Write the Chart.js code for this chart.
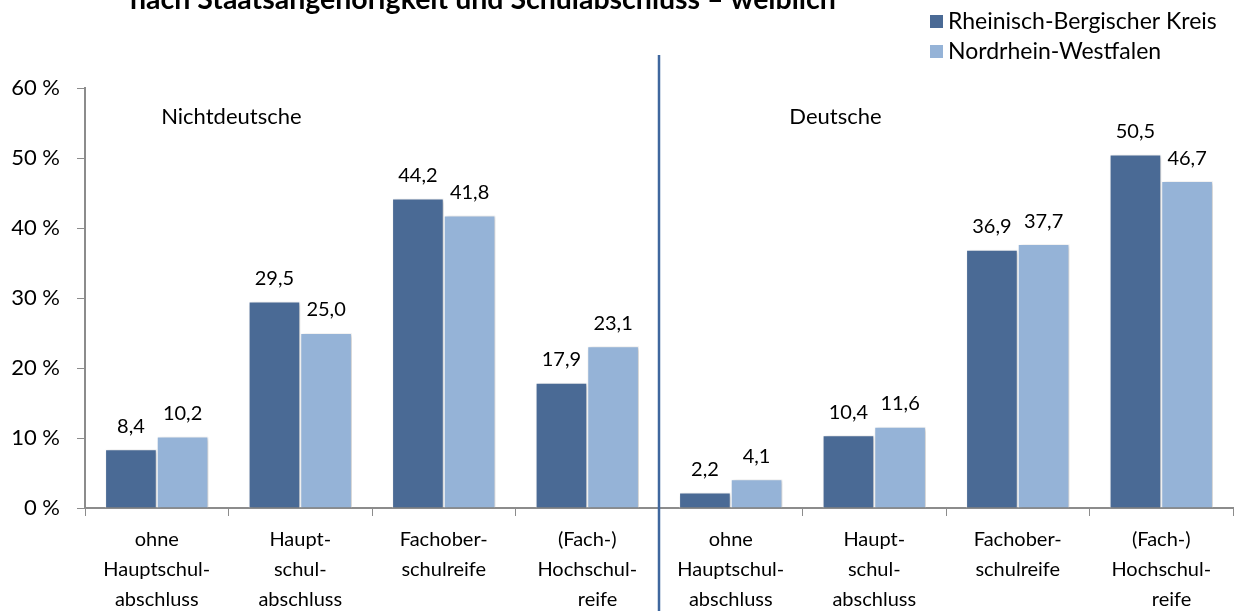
<!DOCTYPE html>
<html>
<head>
<meta charset="utf-8">
<script src="https://cdn.jsdelivr.net/npm/chart.js@4/dist/chart.umd.min.js"></script>
<style>
  html, body { margin: 0; padding: 0; background: #fff; }
  #wrap { width: 1235px; height: 611px; position: relative; }
</style>
</head>
<body>
<div id="wrap"><canvas id="chart" width="1235" height="611"></canvas></div>
<script>
const titleText = 'nach Staatsangehörigkeit und Schulabschluss – weiblich'
const groupNames = ['Nichtdeutsche', 'Deutsche']
const categories = [
  ['ohne', 'Hauptschul-', 'abschluss'],
  ['Haupt-', 'schul-', 'abschluss'],
  ['Fachober-', 'schulreife'],
  ['(Fach-)', 'Hochschul-', '    reife'],
  ['ohne', 'Hauptschul-', 'abschluss'],
  ['Haupt-', 'schul-', 'abschluss'],
  ['Fachober-', 'schulreife'],
  ['(Fach-)', 'Hochschul-', '    reife']
]
const seriesNames = ['Rheinisch-Bergischer Kreis', 'Nordrhein-Westfalen']
const rbkValues = [8.4, 29.5, 44.2, 17.9, 2.2, 10.4, 36.9, 50.5]
const nrwValues = [10.2, 25.0, 41.8, 23.1, 4.1, 11.6, 37.7, 46.7]
const yTicks = [0, 10, 20, 30, 40, 50, 60]

const darkBlue = '#4a6a95'
const lightBlue = '#95b3d7'
const axisGray = '#8c8c8c'
const font = 'Lato, "Open Sans", sans-serif'

// text on top of the bars, German decimal comma
const valueLabels = {
  id: 'valueLabels',
  afterDatasetsDraw(chart) {
    const ctx = chart.ctx
    ctx.save()
    ctx.font = '20px ' + font
    ctx.fillStyle = '#000'
    ctx.textAlign = 'center'
    ctx.textBaseline = 'middle'
    chart.data.datasets.forEach((ds, i) => {
      chart.getDatasetMeta(i).data.forEach((bar, j) => {
        ctx.fillText(ds.data[j].toFixed(1).replace('.', ','), bar.x, bar.y - 23)
      })
    })
    ctx.restore()
  }
}

// little shadow behind the bars
const barShadow = {
  id: 'barShadow',
  beforeDatasetsDraw(chart) {
    const ctx = chart.ctx
    ctx.save()
    ctx.shadowColor = 'rgba(0,0,0,0.22)'
    ctx.shadowBlur = 4
    ctx.shadowOffsetX = 2
    ctx.shadowOffsetY = 1
  },
  afterDatasetsDraw(chart) {
    chart.ctx.restore()
  }
}

// title, legend, divider line and group names
const decorations = {
  id: 'decorations',
  afterDraw(chart) {
    const ctx = chart.ctx
    const x = chart.scales.x
    ctx.save()

    ctx.font = 'bold 28.5px ' + font
    ctx.fillStyle = '#000'
    ctx.textAlign = 'left'
    ctx.textBaseline = 'alphabetic'
    ctx.fillText(titleText, 130, 9)

    ctx.font = '23px ' + font
    ctx.textBaseline = 'middle'
    ;[darkBlue, lightBlue].forEach((c, i) => {
      const y = 22 + i * 30
      ctx.fillStyle = c
      ctx.fillRect(930, y - 7, 13, 13)
      ctx.fillStyle = '#000'
      ctx.fillText(seriesNames[i], 948, y)
    })

    const mid = (x.getPixelForValue(3) + x.getPixelForValue(4)) / 2
    ctx.strokeStyle = '#3f679e'
    ctx.lineWidth = 2.5
    ctx.beginPath()
    ctx.moveTo(mid, 55)
    ctx.lineTo(mid, 611)
    ctx.stroke()

    ctx.font = '22px ' + font
    ctx.textAlign = 'center'
    ctx.fillStyle = '#000'
    ctx.fillText(groupNames[0], x.getPixelForValue(0.52), 117)
    ctx.fillText(groupNames[1], x.getPixelForValue(4.73), 117)
    ctx.restore()
  }
}

new Chart(document.getElementById('chart'), {
  type: 'bar',
  data: {
    labels: categories,
    datasets: [
      { label: seriesNames[0], data: rbkValues, backgroundColor: darkBlue, borderColor: '#fff', borderWidth: 1 },
      { label: seriesNames[1], data: nrwValues, backgroundColor: lightBlue, borderColor: '#fff', borderWidth: 1 }
    ]
  },
  options: {
    responsive: false,
    animation: false,
    layout: { padding: { top: 88, right: 2, left: 0, bottom: 0 } },
    categoryPercentage: 0.72,
    barPercentage: 1.0,
    plugins: {
      legend: { display: false },
      tooltip: { enabled: false }
    },
    scales: {
      x: {
        grid: { drawOnChartArea: false, color: axisGray, tickLength: 8, offset: true },
        border: { color: axisGray, width: 2 },
        ticks: { color: '#000', font: { family: font, size: 20, lineHeight: 1.5 }, padding: 9, maxRotation: 0, autoSkip: false },
        afterFit(s) { s.height = 103 }
      },
      y: {
        min: 0,
        max: 60,
        afterBuildTicks(s) { s.ticks = yTicks.map(v => ({ value: v })) },
        grid: { drawOnChartArea: false, color: axisGray, tickLength: 8 },
        border: { color: axisGray, width: 2 },
        ticks: { color: '#000', font: { family: font, size: 22 }, padding: 17, callback: v => v + ' %' },
        afterFit(s) { s.width = 85 }
      }
    }
  },
  plugins: [barShadow, valueLabels, decorations]
});
</script>
</body>
</html>
